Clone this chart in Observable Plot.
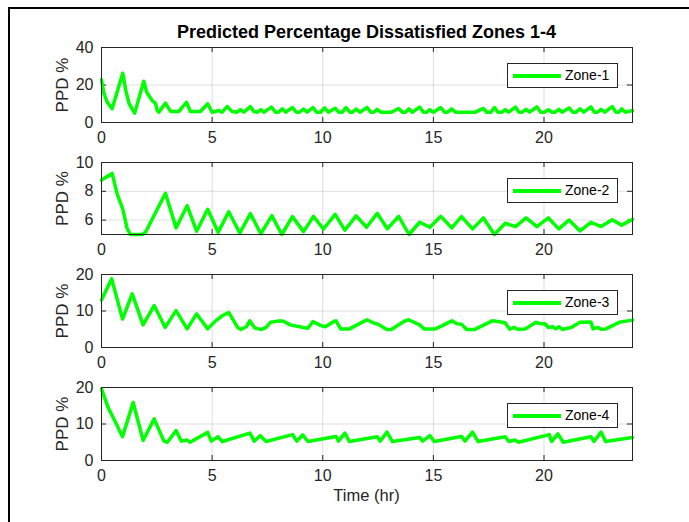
<!DOCTYPE html>
<html><head><meta charset="utf-8">
<script src="https://cdn.jsdelivr.net/npm/d3@7"></script>
<script src="https://cdn.jsdelivr.net/npm/@observablehq/plot@0.6"></script>
<style>
body{margin:0;background:#fff;}
#wrap{position:relative;width:689px;height:522px;overflow:hidden;font-family:"Liberation Sans",Arial,Helvetica,sans-serif;color:#262626;}
#wrap svg{position:absolute;left:0;overflow:visible;}
.border{position:absolute;left:8px;top:7px;width:800px;height:600px;border-left:2px solid #000;border-top:2px solid #000;}
.title{position:absolute;left:101px;width:531px;top:22px;text-align:center;font-weight:bold;font-size:18px;color:#000;}
.xlab{position:absolute;left:101px;width:531px;top:486px;text-align:center;font-size:16.5px;color:#262626;}
.legend{position:absolute;left:507px;width:109px;height:23px;border:1px solid #262626;background:#fff;}
.legend .sw{position:absolute;left:5px;top:10px;width:48px;height:4px;background:#00ff00;}
.legend .tx{position:absolute;left:57px;top:3px;font-size:14px;color:#000;}
</style></head><body><div id="wrap"><div class="border"></div></div>
<script>
// ---- data ----
const xTicks = [0, 5, 10, 15, 20];
const zoneNames = ["Zone-1", "Zone-2", "Zone-3", "Zone-4"];
const yDomains = [[0, 40], [5, 10], [0, 20], [0, 20]];
const yTicks = [[0, 20, 40], [6, 8, 10], [0, 10, 20], [0, 10, 20]];

const zone1Time = [0,0.1,0.25,0.48,0.96,1.1,1.25,1.5,1.91,2.05,2.14,2.29,2.44,2.52,2.59,2.89,3.12,3.5,3.84,4.02,4.47,4.8,5.0,5.3,5.45,5.68,5.9,6.13,6.28,6.43,6.73,6.88,7.05,7.2,7.34,7.68,7.86,8.0,8.17,8.33,8.63,8.8,8.95,9.13,9.3,9.56,9.72,9.9,10.08,10.25,10.56,10.72,10.88,11.05,11.22,11.35,11.51,11.68,12.0,12.17,12.3,12.46,12.62,13.1,13.43,13.6,13.75,13.89,14.05,14.38,14.55,14.7,14.84,15.0,15.34,15.5,15.65,15.83,16.0,16.9,17.26,17.42,17.6,17.76,17.92,18.1,18.25,18.4,18.71,18.87,19.0,19.19,19.35,19.68,19.85,20.0,20.2,20.35,20.5,20.67,20.82,21.13,21.3,21.45,21.63,21.8,22.12,22.28,22.42,22.58,22.75,23.08,23.25,23.38,23.51,23.68,24];
const zone1PPD = [22.8,16,11,7.3,26.3,17,10,5,22,16,14.4,11.7,10.3,6.4,5.5,10.3,5.9,5.9,10.8,5.9,5.9,10,5.5,6.4,5.5,8.5,5.9,5.5,6.9,5.5,8.5,5.9,5.5,6.8,5.5,8.2,5.5,5.5,7.3,5.5,8.0,5.5,5.5,7.2,5.5,8.0,5.5,5.5,7.8,5.5,7.6,5.5,5.5,8.0,5.5,5.5,7.2,5.5,8.0,5.5,5.5,7.0,5.5,5.5,7.5,5.5,5.5,7.3,5.5,8.2,5.5,5.5,6.8,5.5,8.0,5.5,5.5,7.3,5.5,5.5,7.5,5.5,5.5,8.0,5.5,5.5,6.8,5.5,8.2,5.5,5.5,7.0,5.5,8.3,5.5,5.5,6.8,5.5,5.5,7.0,5.5,7.8,5.5,5.5,7.3,5.5,8.3,5.5,5.5,7.0,5.5,8.5,5.5,5.5,7.3,5.5,6.4];

const zone2Time = [0,0.48,0.71,0.96,1.16,1.31,1.84,1.99,2.89,3.37,3.87,4.3,4.8,5.27,5.75,6.25,6.73,7.2,7.7,8.15,8.63,9.13,9.58,10.03,10.56,11.0,11.51,11.98,12.46,12.92,13.43,13.9,14.38,14.84,15.34,15.83,16.27,16.77,17.26,17.76,18.25,18.71,19.19,19.68,20.2,20.67,21.13,21.63,22.12,22.58,23.08,23.51,24];
const zone2PPD = [8.78,9.24,7.8,6.78,5.4,5.0,5.0,5.16,7.86,5.46,7.0,5.23,6.75,5.15,6.58,5.1,6.45,5.05,6.31,5.0,6.24,5.2,6.26,5.38,6.4,5.3,6.29,5.5,6.47,5.4,6.26,5.0,5.85,5.5,6.26,5.46,6.24,5.39,6.15,5.0,5.78,5.55,6.15,5.55,6.15,5.39,6.0,5.25,5.85,5.55,6.03,5.65,6.05];

const zone3Time = [0,0.46,0.95,1.39,1.88,2.38,2.88,3.37,3.87,4.3,4.8,5.16,5.46,5.75,6.15,6.3,6.55,6.7,6.94,7.24,7.44,7.64,8.04,8.23,8.53,9.13,9.33,9.56,9.92,10.12,10.52,10.6,10.81,11.21,11.9,12.0,12.3,12.5,12.9,13.1,13.69,13.89,14.09,14.38,14.58,15.08,15.34,15.83,16.07,16.27,16.5,16.87,17.06,17.66,18.06,18.25,18.45,18.65,18.81,19.15,19.64,19.84,20.04,20.2,20.4,20.54,20.67,20.83,21.23,21.63,22.12,22.22,22.42,22.58,22.8,23.4,24];
const zone3PPD = [13.0,18.8,7.8,14.7,6.2,11.5,5.5,10.1,5.1,9.2,5.1,7.3,8.7,9.6,5.5,4.95,5.7,7.3,5.3,4.95,5.5,6.9,7.3,7.2,6.2,5.5,5.3,7.1,6.0,5.7,7.2,7.3,5.1,5.1,7.3,7.6,6.7,6.4,4.95,4.95,7.2,7.6,7.0,6.2,5.1,5.1,5.8,7.3,6.5,6.4,4.95,4.95,5.5,7.3,7.0,6.7,5.0,5.5,5.0,5.1,6.9,6.5,6.5,5.5,5.7,5.1,5.7,4.95,5.5,6.9,7.0,5.1,5.5,5.0,5.1,6.9,7.5];

const zone4Time = [0,0.3,0.6,0.95,1.43,1.88,2.38,2.82,2.98,3.37,3.61,3.87,4.0,4.8,4.96,5.26,5.46,6.71,6.9,7.18,7.44,8.63,8.83,9.09,9.33,10.6,10.71,11.0,11.2,12.46,12.6,12.9,13.15,14.38,14.52,14.84,15.04,16.27,16.43,16.77,17.02,18.25,18.41,18.69,18.85,20.24,20.34,20.63,20.87,22.12,22.26,22.58,22.78,24];
const zone4PPD = [19.6,14.5,10.9,6.5,15.9,5.5,11.4,5.3,5.0,8.2,5.3,5.6,5.0,7.7,5.3,6.5,5.2,7.5,5.3,6.8,5.2,7.1,5.3,7.0,5.2,6.6,5.3,7.5,5.2,6.5,5.3,7.8,5.2,6.3,5.3,6.8,5.2,6.6,5.3,7.8,5.2,6.5,5.2,5.6,5.0,7.1,5.2,7.3,5.0,6.5,5.2,7.8,5.2,6.3];

const zoneTimes = [zone1Time, zone2Time, zone3Time, zone4Time];
const zonePPD = [zone1PPD, zone2PPD, zone3PPD, zone4PPD];

// ---- layout ----
const panelTop = [47, 162, 274, 387];
const panelBottom = [122, 234, 347, 460];
const mt = 10, mb = 32;
const wrap = document.getElementById("wrap");
const font = '"Liberation Sans", Arial, Helvetica, sans-serif';

zoneNames.forEach((name, i) => {
  const rows = zoneTimes[i].map((t, j) => ({t, v: zonePPD[i][j]}));
  const H = panelBottom[i] - panelTop[i];
  const W = 531;
  const tickColor = "#262626";
  const svg = Plot.plot({
    width: 689, height: H + mt + mb,
    marginLeft: 101, marginRight: 57, marginTop: mt, marginBottom: mb,
    x: {domain: [0, 24]},
    y: {domain: yDomains[i]},
    style: {fontFamily: font, fontSize: "16px", color: tickColor, background: "transparent", overflow: "visible"},
    marks: [
      Plot.gridX(xTicks, {stroke: "#000", strokeOpacity: 0.13}),
      Plot.gridY(yTicks[i], {stroke: "#000", strokeOpacity: 0.13}),
      Plot.axisX(xTicks, {tickSize: 0, tickPadding: 9, fontSize: 16, label: null, fill: tickColor}),
      Plot.axisY(yTicks[i], {tickSize: 0, tickPadding: 8, fontSize: 16, label: null, fill: tickColor}),
      Plot.tickX(xTicks, {x: d => d, insetTop: H - 5, stroke: tickColor}),
      Plot.tickX(xTicks, {x: d => d, insetBottom: H - 5, stroke: tickColor}),
      Plot.tickY(yTicks[i], {y: d => d, insetRight: W - 5, stroke: tickColor}),
      Plot.tickY(yTicks[i], {y: d => d, insetLeft: W - 5, stroke: tickColor}),
      Plot.line(rows, {x: "t", y: "v", stroke: "#00ff00", strokeWidth: 3.5, strokeLinejoin: "round"}),
      Plot.frame({stroke: tickColor}),
      Plot.text(["PPD %"], {frameAnchor: "left", textAnchor: "middle", dx: -39, rotate: -90, fontSize: 17, fill: tickColor})
    ]
  });
  svg.style.top = (panelTop[i] - mt) + "px";
  wrap.appendChild(svg);

  const lg = document.createElement("div");
  lg.className = "legend";
  lg.style.top = (panelTop[i] + 16) + "px";
  lg.innerHTML = '<div class="sw"></div><div class="tx"></div>';
  lg.querySelector(".tx").textContent = name;
  wrap.appendChild(lg);
});

const title = document.createElement("div");
title.className = "title";
title.textContent = "Predicted Percentage Dissatisfied Zones 1-4";
wrap.appendChild(title);

const xl = document.createElement("div");
xl.className = "xlab";
xl.textContent = "Time (hr)";
wrap.appendChild(xl);
</script></body></html>
